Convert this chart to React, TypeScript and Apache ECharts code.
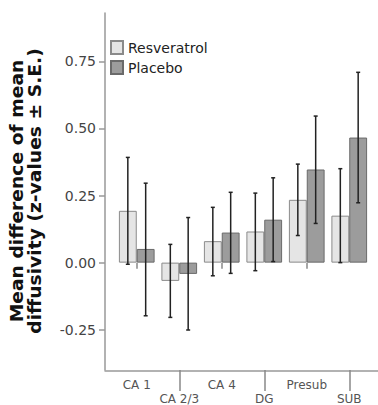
import React, { useEffect, useRef } from "react";
import * as echarts from "echarts";

const categories = ["CA 1", "CA 2/3", "CA 4", "DG", "Presub", "SUB"];
const resveratrol = [0.193, -0.068, 0.08, 0.116, 0.234, 0.175];
const resveratrolLow = [-0.006, -0.204, -0.049, -0.03, 0.101, 0.0];
const resveratrolHigh = [0.392, 0.068, 0.206, 0.259, 0.367, 0.35];
const placebo = [0.051, -0.042, 0.112, 0.16, 0.347, 0.466];
const placeboLow = [-0.198, -0.251, -0.04, 0.004, 0.146, 0.223];
const placeboHigh = [0.296, 0.168, 0.262, 0.316, 0.546, 0.709];
const yTicks = [-0.25, 0, 0.25, 0.5, 0.75];

const CAT_GAP = 0.16;
const FONT = '"DejaVu Sans", Verdana, sans-serif';

function makeErrorRender(side: number) {
  return (params: any, api: any) => {
    const idx = api.value(0);
    const band = api.size([1, 0])[0];
    const barW = (band * (1 - CAT_GAP)) / 2;
    const cx = api.coord([idx, 0])[0] + (side * barW) / 2;
    const lo = api.coord([idx, api.value(1)])[1];
    const hi = api.coord([idx, api.value(2)])[1];
    const st = { stroke: "#222", lineWidth: 1.5 };
    const cap = 2;
    return {
      type: "group",
      children: [
        { type: "line", shape: { x1: cx, y1: lo, x2: cx, y2: hi }, style: st },
        { type: "line", shape: { x1: cx - cap, y1: lo, x2: cx + cap, y2: lo }, style: st },
        { type: "line", shape: { x1: cx - cap, y1: hi, x2: cx + cap, y2: hi }, style: st },
      ],
    };
  };
}

export default function App() {
  const ref = useRef<HTMLDivElement>(null);
  useEffect(() => {
    if (!ref.current) return;
    const chart = echarts.init(ref.current, null, { renderer: "svg" });
    const even = (i: number) => i % 2 === 0;
    const odd = (i: number) => i % 2 === 1;
    const labelStyle = { color: "#555", fontSize: 12, fontFamily: FONT };
    chart.setOption({
      animation: false,
      backgroundColor: "#fff",
      grid: { left: 115.5, right: 7.5, top: 13, bottom: 34 },
      legend: {
        data: ["Resveratrol", "Placebo"],
        orient: "vertical",
        left: 110,
        top: 40,
        padding: 0,
        itemWidth: 12,
        itemHeight: 13,
        itemGap: 5,
        icon: "rect",
        textStyle: { color: "#222", fontSize: 14, fontFamily: FONT },
      },
      xAxis: [
        {
          type: "category",
          data: categories,
          position: "bottom",
          axisLine: { show: false },
          axisTick: {
            show: true,
            alignWithLabel: true,
            length: 6,
            interval: (i: number) => even(i),
            lineStyle: { color: "#888", width: 1.5 },
          },
          axisLabel: { ...labelStyle, interval: (i: number) => even(i), margin: 9 },
        },
        {
          type: "category",
          data: categories,
          position: "bottom",
          axisLine: { show: false },
          axisTick: {
            show: true,
            alignWithLabel: true,
            length: 21,
            interval: (i: number) => odd(i),
            lineStyle: { color: "#888", width: 1.5 },
          },
          axisLabel: { ...labelStyle, interval: (i: number) => odd(i), margin: 23 },
        },
      ],
      yAxis: {
        type: "value",
        min: -0.4,
        max: 0.93,
        offset: 10.5,
        axisLine: { show: true, lineStyle: { color: "#999", width: 1.5 } },
        axisTick: { show: true, length: 6, customValues: yTicks, lineStyle: { color: "#999", width: 1.5 } },
        axisLabel: {
          customValues: yTicks,
          formatter: (v: number) => v.toFixed(2),
          color: "#444",
          fontSize: 14,
          fontFamily: FONT,
          margin: 9,
        },
        splitLine: { show: false },
      },
      series: [
        {
          name: "Resveratrol",
          type: "bar",
          data: resveratrol,
          barGap: "0%",
          barCategoryGap: "16%",
          itemStyle: { color: "#e5e5e5", borderColor: "#8a8a8a", borderWidth: 1 },
        },
        {
          name: "Placebo",
          type: "bar",
          data: placebo,
          barGap: "0%",
          barCategoryGap: "16%",
          itemStyle: { color: "#9c9c9c", borderColor: "#6a6a6a", borderWidth: 1 },
        },
        {
          name: "errRes",
          type: "custom",
          z: 5,
          renderItem: makeErrorRender(-1),
          encode: { x: 0, y: [1, 2] },
          data: categories.map((_, i) => [i, resveratrolLow[i], resveratrolHigh[i]]),
        },
        {
          name: "errPla",
          type: "custom",
          z: 5,
          renderItem: makeErrorRender(1),
          encode: { x: 0, y: [1, 2] },
          data: categories.map((_, i) => [i, placeboLow[i], placeboHigh[i]]),
        },
      ],
      graphic: [
        {
          type: "line",
          shape: { x1: 104.5, y1: 371, x2: 378, y2: 371 },
          style: { stroke: "#999", lineWidth: 1.5 },
          silent: true,
        },
        {
          type: "text",
          x: 26,
          y: 191,
          rotation: Math.PI / 2,
          scaleX: 1.04,
          style: {
            text: "Mean difference of mean\ndiffusivity (z-values ± S.E.)",
            font: `bold 18px ${FONT}`,
            lineHeight: 18,
            fill: "#111",
            textAlign: "center",
            textVerticalAlign: "middle",
          },
        },
      ],
    });
    return () => chart.dispose();
  }, []);
  return <div ref={ref} style={{ width: 378, height: 405, position: "absolute", left: 0, top: 0 }} />;
}
